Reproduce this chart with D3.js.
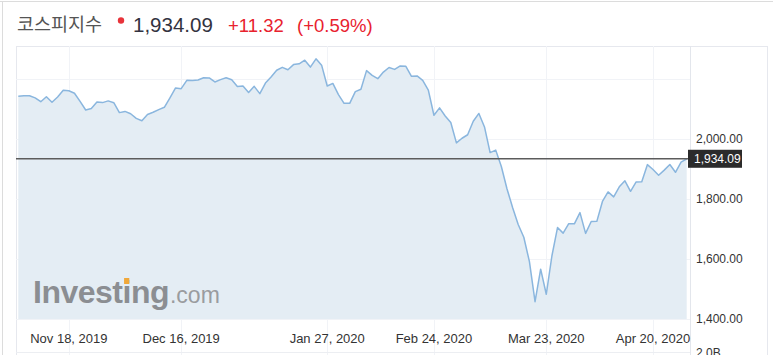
<!DOCTYPE html>
<html>
<head>
<meta charset="utf-8">
<script src="https://cdn.jsdelivr.net/npm/d3@7"></script>
<style>
  body { margin: 0; background: #fff; }
  svg { display: block; font-family: 'Liberation Sans', Arial, sans-serif; }
</style>
</head>
<body>
<svg id="chart" width="773" height="355"></svg>
<script>
// Data: daily closes.
const title = '코스피지수';
const lastClose = 1934.09;
const changeText = '+11.32';
const changePctText = '(+0.59%)';

const startDate = '2019-11-05';
const endDate = '2020-04-28';
const holidays = ['2019-12-25', '2019-12-31', '2020-01-01', '2020-01-24', '2020-01-27', '2020-04-15'];

const closesNov = [2142.64, 2144.15, 2144.31, 2137.22, 2124.32, 2140.92, 2122.45, 2139.94, 2162.18, 2160.69,
  2152.59, 2125.32, 2096.60, 2101.46, 2123.50, 2121.35, 2127.03, 2121.00, 2087.96];
const closesDec = [2091.92, 2084.07, 2068.89, 2060.74, 2081.85, 2089.03, 2098.00, 2105.63, 2137.35, 2170.25,
  2167.82, 2195.68, 2195.22, 2196.56, 2204.18, 2203.71, 2190.14, 2197.93, 2204.21, 2197.67];
const closesJan = [2175.17, 2176.46, 2155.07, 2175.54, 2151.31, 2186.45, 2206.39, 2229.26, 2238.88, 2230.98,
  2248.05, 2250.57, 2262.64, 2239.69, 2267.25, 2246.13, 2176.72, 2185.28, 2148.00, 2119.01];
const closesFeb = [2118.88, 2157.90, 2165.63, 2227.94, 2211.95, 2201.07, 2223.12, 2238.38, 2232.01, 2243.59,
  2242.17, 2208.88, 2210.34, 2195.50, 2162.84, 2079.04, 2103.61, 2076.77, 2054.89, 1987.01];
const closesMar = [2002.51, 2014.15, 2059.33, 2085.26, 2040.22, 1954.77, 1962.93, 1908.27, 1834.33, 1771.44,
  1714.86, 1672.44, 1591.20, 1457.64, 1566.15, 1482.46, 1609.97, 1704.76, 1686.24, 1717.73, 1717.12, 1754.64];
const closesApr = [1685.46, 1724.86, 1725.44, 1791.88, 1823.60, 1807.14, 1840.53, 1860.70, 1825.76, 1857.08,
  1857.61, 1914.53, 1898.36, 1879.38, 1896.15, 1914.83, 1889.01, 1922.77, 1934.09];

const tickDates = ['2019-11-18', '2019-12-16', '2020-01-27', '2020-02-24', '2020-03-23', '2020-04-20'];
const priceTicks = [1400, 1600, 1800, 2000];
const gridValues = [1400, 1600, 1800, 2000, 2200];

// Build trading day list (weekdays minus market holidays).
const parseDay = d3.timeParse('%Y-%m-%d');
const dayKey = d3.timeFormat('%Y-%m-%d');
const tradingDays = d3.timeDay
  .range(parseDay(startDate), d3.timeDay.offset(parseDay(endDate), 1))
  .filter(d => d.getDay() !== 0 && d.getDay() !== 6 && !holidays.includes(dayKey(d)));
const closes = [].concat(closesNov, closesDec, closesJan, closesFeb, closesMar, closesApr);
const series = tradingDays.map((d, i) => ({ key: dayKey(d), value: closes[i] }));

// Layout.
const plot = { left: 16, top: 46, right: 690, bottom: 319, axisBottom: 352 };

// Scales.
const x = d3.scalePoint()
  .domain(series.map(d => d.key))
  .range([18.3, 686.7]);

const y = d3.scaleLinear()
  .domain([1400, 2000])
  .range([319, 139]);

const svg = d3.select('#chart');

// Outer frame.
svg.append('line').attr('x1', 0).attr('x2', 773).attr('y1', 1.5).attr('y2', 1.5).attr('stroke', '#dcdcdc');
svg.append('line').attr('x1', 2.5).attr('x2', 2.5).attr('y1', 1).attr('y2', 355).attr('stroke', '#dcdcdc');
svg.append('line').attr('x1', 767.5).attr('x2', 767.5).attr('y1', plot.top).attr('y2', 355).attr('stroke', '#e6e8ee');

// Header.
const header = svg.append('g');
header.append('text')
  .attr('x', 17).attr('y', 31)
  .style('font-family', "'Noto Sans CJK KR', sans-serif")
  .style('font-size', '18.5px')
  .attr('fill', '#555')
  .text(title);
header.append('circle').attr('cx', 121).attr('cy', 20.5).attr('r', 3.2).attr('fill', '#e8333a');
header.append('text')
  .attr('x', 133).attr('y', 32)
  .style('font-size', '20.5px')
  .attr('fill', '#33333f')
  .text(d3.format(',.2f')(lastClose));
header.append('text')
  .attr('x', 228).attr('y', 32)
  .style('font-size', '18.5px')
  .attr('fill', '#e8222e')
  .text(changeText);
header.append('text')
  .attr('x', 297).attr('y', 32)
  .style('font-size', '18.5px')
  .attr('fill', '#e8222e')
  .text(changePctText);

// Plot frame.
svg.append('line').attr('x1', plot.left).attr('x2', 767).attr('y1', plot.top + 0.5).attr('y2', plot.top + 0.5).attr('stroke', '#e6e8ee');
svg.append('line').attr('x1', plot.left + 0.5).attr('x2', plot.left + 0.5).attr('y1', plot.top).attr('y2', 355).attr('stroke', '#e6e8ee');

// Ticks sit on the first trading day on or after the tick date.
const ticks = tickDates.map(t => {
  const date = parseDay(t);
  const day = tradingDays.find(d => d >= date);
  return { date, key: dayKey(day) };
});

// Grid.
svg.append('g')
  .selectAll('line')
  .data(gridValues)
  .join('line')
  .attr('x1', plot.left).attr('x2', plot.right)
  .attr('y1', d => Math.round(y(d)) + 0.5).attr('y2', d => Math.round(y(d)) + 0.5)
  .attr('stroke', '#f1f3f7');

svg.append('g')
  .selectAll('line')
  .data(ticks)
  .join('line')
  .attr('x1', d => Math.round(x(d.key)) + 0.5).attr('x2', d => Math.round(x(d.key)) + 0.5)
  .attr('y1', plot.top).attr('y2', 355)
  .attr('stroke', '#f1f3f7');

svg.append('line')
  .attr('x1', plot.left).attr('x2', plot.right)
  .attr('y1', plot.axisBottom + 0.5).attr('y2', plot.axisBottom + 0.5)
  .attr('stroke', '#eceef2');

// Area + line.
const area = d3.area()
  .x(d => x(d.key))
  .y0(y(1400))
  .y1(d => y(d.value));

const line = d3.line()
  .x(d => x(d.key))
  .y(d => y(d.value));

svg.append('path')
  .datum(series)
  .attr('d', area)
  .attr('fill', '#e4edf4');

// Watermark.
const mark = svg.append('g');
const markText = mark.append('text')
  .attr('x', 33).attr('y', 303)
  .style('font-size', '32px')
  .style('font-weight', 'bold')
  .style('letter-spacing', '-0.5px')
  .attr('fill', '#8b8e92')
  .text('Investing');
const markWidth = markText.node().getComputedTextLength();
const iLeft = markText.node().getSubStringLength(0, 6);
const iRight = markText.node().getSubStringLength(0, 7);
mark.append('rect')
  .attr('x', 33 + (iLeft + iRight) / 2 - 2.6).attr('y', 278)
  .attr('width', 5.2).attr('height', 6)
  .attr('fill', '#f0a83a');
mark.append('text')
  .attr('x', 33 + markWidth + 1).attr('y', 303)
  .style('font-size', '23px')
  .attr('fill', '#9a9c9f')
  .text('.com');

svg.append('path')
  .datum(series)
  .attr('d', line)
  .attr('fill', 'none')
  .attr('stroke', '#8ab6de')
  .attr('stroke-width', 1.5)
  .attr('stroke-linejoin', 'round');

// Y axis separator.
svg.append('line')
  .attr('x1', plot.right + 0.5).attr('x2', plot.right + 0.5)
  .attr('y1', plot.top).attr('y2', 355)
  .attr('stroke', '#e3e6ec');

// Last close line.
svg.append('line')
  .attr('x1', plot.left).attr('x2', plot.right)
  .attr('y1', y(lastClose)).attr('y2', y(lastClose))
  .attr('stroke', '#5c5c5c')
  .attr('stroke-width', 1.6);

// Y labels.
svg.append('g')
  .selectAll('text')
  .data(priceTicks)
  .join('text')
  .attr('x', 696)
  .attr('y', d => y(d))
  .attr('dy', '0.35em')
  .style('font-size', '12px')
  .attr('fill', '#333')
  .text(d => d3.format(',.2f')(d));

svg.append('text')
  .attr('x', 696).attr('y', 357)
  .style('font-size', '12px')
  .attr('fill', '#333')
  .text('2.0B');

// Last close badge.
const badge = svg.append('g');
badge.append('rect')
  .attr('x', 688).attr('y', y(lastClose) - 9)
  .attr('width', 54).attr('height', 18)
  .attr('fill', '#2b2b2b');
badge.append('text')
  .attr('x', 694).attr('y', y(lastClose))
  .attr('dy', '0.35em')
  .style('font-size', '12px')
  .attr('fill', '#fff')
  .text(d3.format(',.2f')(lastClose));

// X labels.
svg.append('g')
  .selectAll('text')
  .data(ticks)
  .join('text')
  .attr('x', d => x(d.key))
  .attr('y', 343)
  .attr('text-anchor', 'middle')
  .style('font-size', '13px')
  .attr('fill', '#333')
  .text(d => d3.timeFormat('%b %-d, %Y')(d.date));
</script>
</body>
</html>
